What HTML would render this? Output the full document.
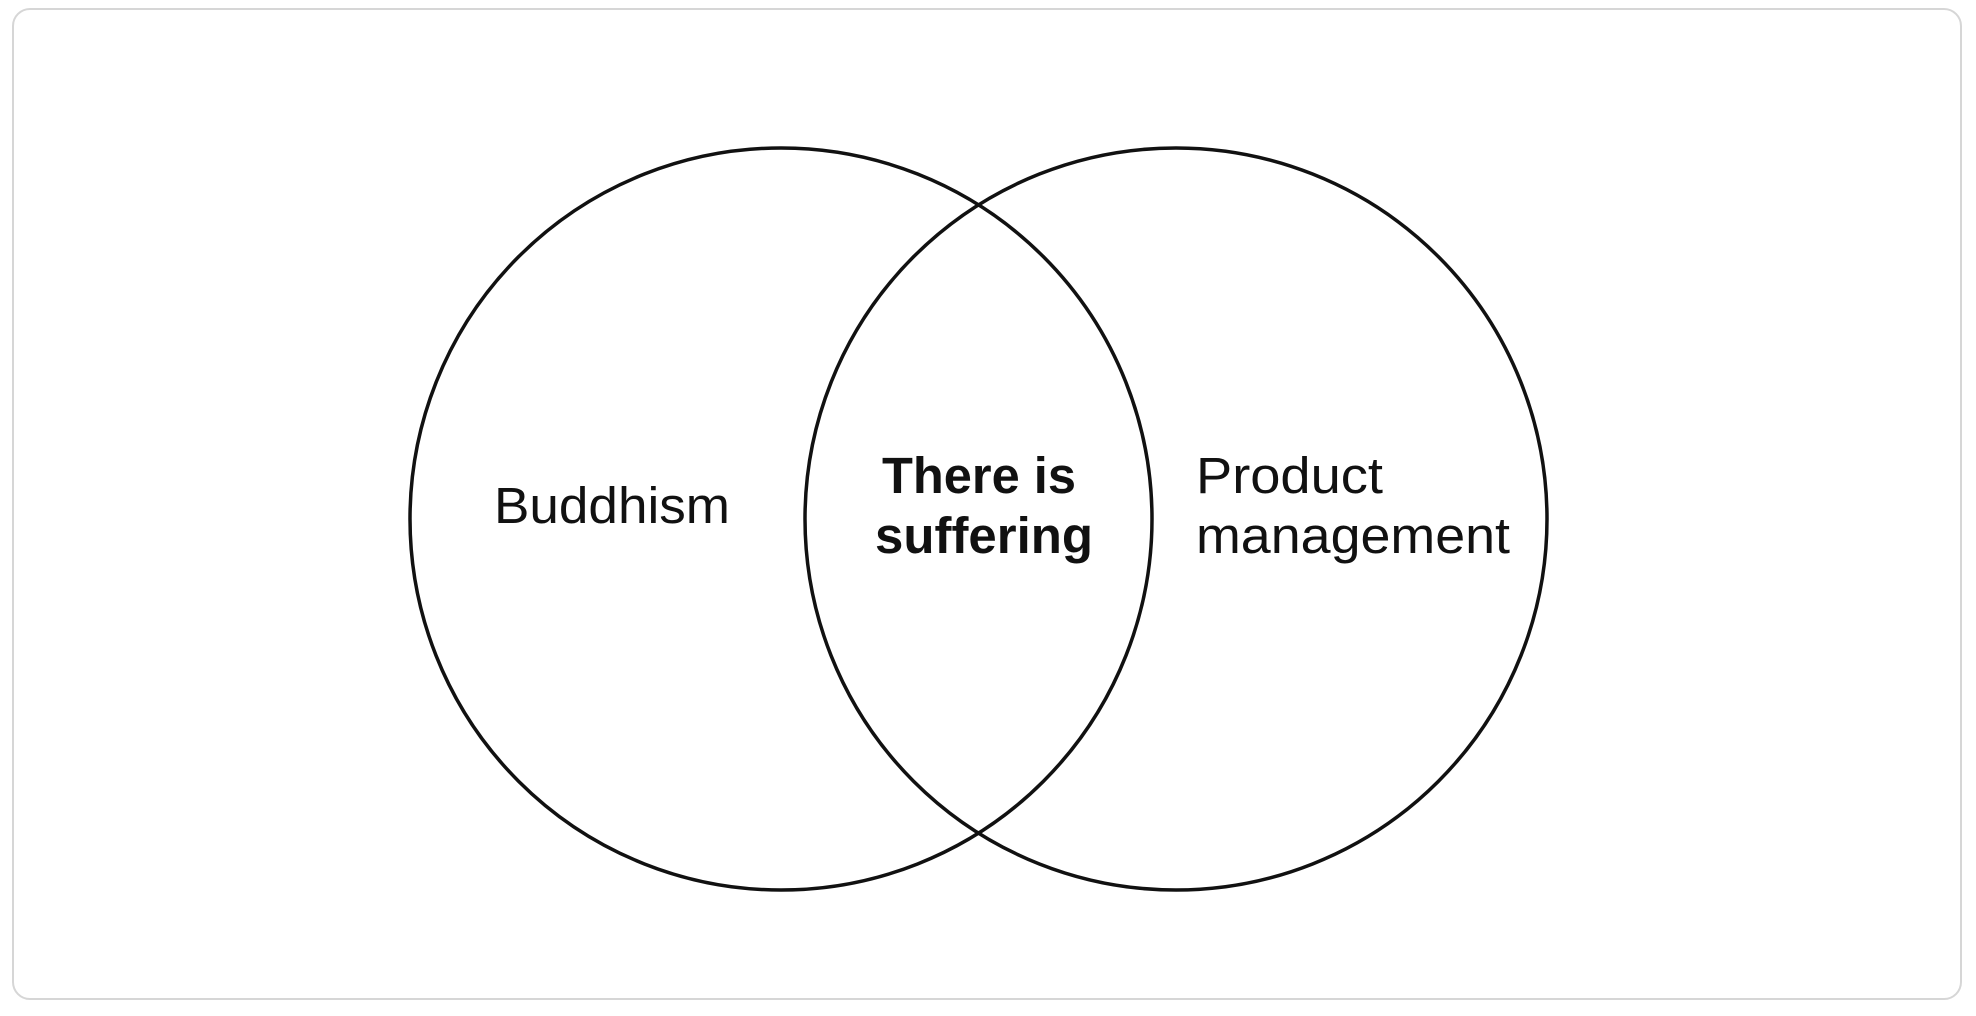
<!DOCTYPE html>
<html><head><style>
html,body{margin:0;padding:0;background:#fff;}
body{width:1976px;height:1016px;position:relative;overflow:hidden;}
.card{position:absolute;left:12px;top:8px;width:1950px;height:992px;border:2px solid #d6d6d6;border-radius:18px;box-sizing:border-box;}
svg{position:absolute;left:0;top:0;}
text{font-family:"Liberation Sans",sans-serif;font-size:51px;fill:#111;}
</style></head><body>
<div class="card"></div>
<svg width="1976" height="1016">
<circle cx="781" cy="519" r="371" fill="none" stroke="#111" stroke-width="3.5"/>
<circle cx="1176" cy="519" r="371" fill="none" stroke="#111" stroke-width="3.5"/>
<text x="494" y="523" textLength="236" lengthAdjust="spacingAndGlyphs">Buddhism</text>
<text x="979" y="493" text-anchor="middle" font-weight="bold" textLength="194" lengthAdjust="spacingAndGlyphs">There is</text>
<text x="984" y="553" text-anchor="middle" font-weight="bold" textLength="218" lengthAdjust="spacingAndGlyphs">suffering</text>
<text x="1196" y="493" textLength="187" lengthAdjust="spacingAndGlyphs">Product</text>
<text x="1196" y="553" textLength="314" lengthAdjust="spacingAndGlyphs">management</text>
</svg>
</body></html>
